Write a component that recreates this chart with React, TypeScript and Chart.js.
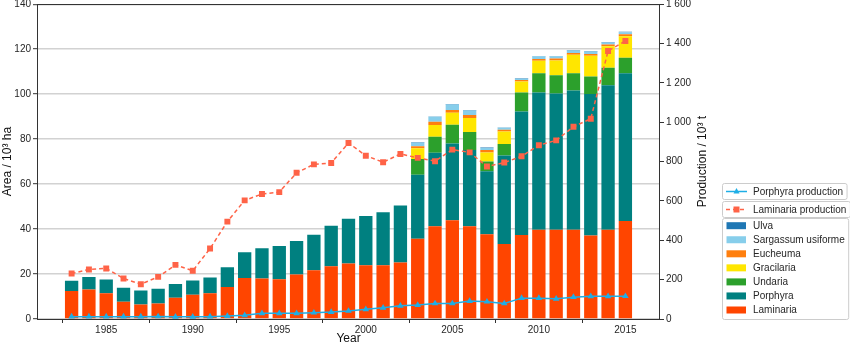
import React, { useEffect, useRef } from 'react';
import { Chart, registerables } from 'chart.js';

Chart.register(...registerables);

const years = [1983, 1984, 1985, 1986, 1987, 1988, 1989, 1990, 1991, 1992, 1993, 1994, 1995, 1996, 1997, 1998, 1999, 2000, 2001, 2002, 2003, 2004, 2005, 2006, 2007, 2008, 2009, 2010, 2011, 2012, 2013, 2014, 2015];

const laminariaArea = [12.4, 13.1, 11.5, 7.7, 6.5, 6.9, 9.5, 10.8, 11.4, 14.2, 18.2, 18.0, 17.7, 19.8, 21.7, 23.5, 24.7, 23.9, 23.9, 25.1, 35.7, 41.2, 43.9, 41.2, 37.7, 33.4, 37.4, 39.7, 39.7, 39.7, 37.1, 39.7, 43.6];
const porphyraArea = [4.6, 5.6, 6.1, 6.2, 6.2, 6.5, 6.1, 6.3, 7.1, 8.8, 11.5, 13.5, 14.8, 14.9, 15.8, 18.0, 19.9, 21.9, 23.6, 25.4, 28.5, 32.7, 34.2, 34.0, 28.0, 39.3, 54.9, 61.0, 60.6, 61.9, 63.0, 64.3, 65.7];
const undariaArea = [0, 0, 0, 0, 0, 0, 0, 0, 0, 0, 0, 0, 0, 0, 0, 0, 0, 0, 0, 0, 7.0, 7.2, 8.3, 8.0, 4.4, 5.1, 8.4, 8.6, 8.1, 7.7, 7.7, 7.7, 6.9];
const gracilariaArea = [0, 0, 0, 0, 0, 0, 0, 0, 0, 0, 0, 0, 0, 0, 0, 0, 0, 0, 0, 0, 4.7, 5.2, 5.3, 6.2, 4.0, 5.6, 4.9, 5.6, 6.6, 8.2, 9.3, 9.6, 9.5];
const eucheumaArea = [0, 0, 0, 0, 0, 0, 0, 0, 0, 0, 0, 0, 0, 0, 0, 0, 0, 0, 0, 0, 0.9, 1.4, 1.2, 1.3, 1.1, 0.8, 0.7, 0.7, 0.8, 0.8, 0.8, 0.8, 0.9];
const sargassumArea = [0, 0, 0, 0, 0, 0, 0, 0, 0, 0, 0, 0, 0, 0, 0, 0, 0, 0, 0, 0, 1.6, 2.2, 2.5, 2.0, 0.9, 0.8, 0.6, 1.2, 1.0, 1.1, 1.1, 0.9, 0.9];
const ulvaArea = [0, 0, 0, 0, 0, 0, 0, 0, 0, 0, 0, 0, 0, 0, 0, 0, 0, 0, 0, 0, 0.2, 0.2, 0.2, 0.2, 0.2, 0.2, 0.2, 0.2, 0.2, 0.2, 0.2, 0.2, 0.2];

const laminariaProduction = [231, 252, 257, 206, 177, 214, 275, 245, 358, 495, 603, 635, 645, 743, 786, 793, 895, 830, 797, 839, 819, 802, 861, 847, 775, 795, 827, 883, 908, 977, 1018, 1362, 1413];
const porphyraProduction = [12, 12, 12, 12, 12, 13, 11, 11, 12, 15, 19, 29, 29, 29, 32, 35, 41, 49, 57, 67, 71, 79, 79, 91, 88, 79, 106, 106, 103, 111, 115, 115, 116];

const xTickValues = [1985, 1990, 1995, 2000, 2005, 2010, 2015];
const leftTickValues = [0, 20, 40, 60, 80, 100, 120, 140];
const rightTickValues = [0, 200, 400, 600, 800, 1000, 1200, 1400, 1600];

const xTitle = 'Year';
const leftTitle = 'Area / 10³ ha';
const rightTitle = 'Production / 10³ t';

const FONT = '"Liberation Sans", Arial, sans-serif';
const TEXT = '#262626';
const SPINE = '#333333';

const barSeries = [
  { label: 'Laminaria', data: laminariaArea, color: '#ff4500' },
  { label: 'Porphyra', data: porphyraArea, color: '#008080' },
  { label: 'Undaria', data: undariaArea, color: '#2ca02c' },
  { label: 'Gracilaria', data: gracilariaArea, color: '#ffe600' },
  { label: 'Eucheuma', data: eucheumaArea, color: '#ff7f0e' },
  { label: 'Sargassum usiforme', data: sargassumArea, color: '#87ceeb' },
  { label: 'Ulva', data: ulvaArea, color: '#1f77b4' },
];

const pts = (vals: number[]) => years.map((y, i) => ({ x: y, y: vals[i] }));

const legendPlugin = {
  id: 'customLegend',
  afterDraw(chart: any) {
    const ctx = chart.ctx as CanvasRenderingContext2D;
    const ds = chart.data.datasets;
    ctx.save();
    ctx.font = `10px ${FONT}`;
    ctx.textBaseline = 'middle';
    const bx = 722.5;
    const textX = 753;
    const frame = (y: number, h: number, w: number) => {
      ctx.beginPath();
      (ctx as any).roundRect(bx, y, w, h, 2);
      ctx.fillStyle = 'rgba(255,255,255,0.85)';
      ctx.fill();
      ctx.strokeStyle = '#cccccc';
      ctx.lineWidth = 1;
      ctx.stroke();
    };
    const lineDs = ds.filter((d: any) => d.type === 'line');
    lineDs.forEach((d: any, i: number) => {
      const y0 = 183.5 + i * 18;
      const tw = ctx.measureText(d.label).width;
      frame(y0, 16, textX + tw + 4 - bx);
      const cy = y0 + 8;
      ctx.strokeStyle = d.borderColor;
      ctx.lineWidth = 1.5;
      ctx.setLineDash(d.borderDash || []);
      ctx.beginPath();
      ctx.moveTo(726, cy);
      ctx.lineTo(747, cy);
      ctx.stroke();
      ctx.setLineDash([]);
      ctx.fillStyle = d.borderColor;
      ctx.beginPath();
      if (d.pointStyle === 'triangle') {
        ctx.moveTo(736.5, cy - 3.5);
        ctx.lineTo(739.5, cy + 2);
        ctx.lineTo(733.5, cy + 2);
        ctx.closePath();
      } else {
        ctx.rect(733.5, cy - 3, 6, 6);
      }
      ctx.fill();
      ctx.fillStyle = TEXT;
      ctx.fillText(d.label, textX, cy + 0.5);
    });
    const barDs = ds.filter((d: any) => d.type === 'bar').slice().reverse();
    let maxW = 0;
    barDs.forEach((d: any) => { maxW = Math.max(maxW, ctx.measureText(d.label).width); });
    frame(218.5, 101, textX + maxW + 4 - bx);
    barDs.forEach((d: any, i: number) => {
      const cy = 225.7 + i * 14.05;
      ctx.fillStyle = d.backgroundColor;
      ctx.fillRect(726.5, cy - 3.5, 19.5, 7);
      ctx.fillStyle = TEXT;
      ctx.fillText(d.label, textX, cy + 0.5);
    });
    ctx.restore();
  },
};

const framePlugin = {
  id: 'frame',
  afterDraw(chart: any) {
    const { left, right, top, bottom } = chart.chartArea;
    const ctx = chart.ctx as CanvasRenderingContext2D;
    ctx.save();
    ctx.strokeStyle = SPINE;
    ctx.lineWidth = 1;
    ctx.strokeRect(Math.round(left) + 0.5, Math.round(top) + 0.5, Math.round(right - left) - 1, Math.round(bottom - top));
    // axis titles
    ctx.fillStyle = '#111';
    ctx.font = `12px ${FONT}`;
    ctx.textAlign = 'center';
    ctx.textBaseline = 'middle';
    const midY = (top + bottom) / 2;
    ctx.fillText(xTitle, (left + right) / 2, 338.5);
    ctx.save();
    ctx.translate(7.5, midY);
    ctx.rotate(-Math.PI / 2);
    ctx.fillText(leftTitle, 0, 0);
    ctx.restore();
    ctx.save();
    ctx.translate(703, midY);
    ctx.rotate(-Math.PI / 2);
    ctx.fillText(rightTitle, 0, 0);
    ctx.restore();
    ctx.restore();
  },
};

export default function App() {
  const ref = useRef<HTMLCanvasElement>(null);
  useEffect(() => {
    if (!ref.current) return;
    const datasets: any[] = [
      {
        type: 'line',
        label: 'Porphyra production',
        data: pts(porphyraProduction),
        yAxisID: 'y1',
        borderColor: '#1eaee6',
        backgroundColor: '#1eaee6',
        borderWidth: 1.5,
        pointStyle: 'triangle',
        pointRadius: 3.8,
        pointBorderWidth: 0,
        tension: 0,
        order: 0,
      },
      {
        type: 'line',
        label: 'Laminaria production',
        data: pts(laminariaProduction),
        yAxisID: 'y1',
        borderColor: '#ff6347',
        backgroundColor: '#ff6347',
        borderWidth: 1.5,
        borderDash: [4, 3],
        pointStyle: 'rect',
        pointRadius: 4.2,
        pointBorderWidth: 0,
        tension: 0,
        order: 0,
      },
      ...barSeries.map((s) => ({
        type: 'bar',
        label: s.label,
        data: pts(s.data),
        yAxisID: 'y',
        backgroundColor: s.color,
        borderWidth: 0,
        barPercentage: 0.77,
        categoryPercentage: 1,
        order: 1,
      })),
    ];
    const chart = new Chart(ref.current, {
      type: 'bar',
      data: { datasets },
      options: {
        animation: false,
        responsive: false,
        devicePixelRatio: 1,
        layout: { padding: { top: 3, right: 140, left: 0, bottom: 0 } },
        plugins: { legend: { display: false }, tooltip: { enabled: false } },
        scales: {
          x: {
            type: 'linear',
            min: 1981,
            max: 2017,
            stacked: true,
            offset: false,
            afterBuildTicks: (s: any) => { s.ticks = xTickValues.map((v) => ({ value: v })); },
            afterFit: (s: any) => { s.height = 26; s.paddingLeft = 0; s.paddingRight = 0; },
            ticks: { callback: (v: any) => String(v), font: { family: FONT, size: 10 }, color: TEXT, padding: 1, maxRotation: 0, autoSkip: false },
            grid: { display: true, drawOnChartArea: false, drawTicks: true, tickLength: 4, tickColor: SPINE, tickWidth: 1 },
            border: { display: false },
            title: { display: false },
          },
          y: {
            type: 'linear',
            position: 'left',
            min: 0,
            max: 140,
            stacked: true,
            afterBuildTicks: (s: any) => { s.ticks = leftTickValues.map((v) => ({ value: v })); },
            afterFit: (s: any) => { s.width = 37; s.paddingTop = 0; s.paddingBottom = 0; },
            ticks: { font: { family: FONT, size: 10 }, color: TEXT, padding: 2 },
            grid: { display: true, drawOnChartArea: true, color: '#d2d2d2', lineWidth: 1.4, drawTicks: true, tickLength: 4, tickColor: SPINE, tickWidth: 1 },
            border: { display: false },
            title: { display: false },
          },
          y1: {
            type: 'linear',
            position: 'right',
            min: 0,
            max: 1600,
            stacked: false,
            afterBuildTicks: (s: any) => { s.ticks = rightTickValues.map((v) => ({ value: v })); },
            afterFit: (s: any) => { s.width = 50; s.paddingTop = 0; s.paddingBottom = 0; },
            ticks: {
              font: { family: FONT, size: 10 },
              color: TEXT,
              padding: 2,
              callback: (v: any) => (v >= 1000 ? `${Math.floor(v / 1000)} ${String(v % 1000).padStart(3, '0')}` : String(v)),
            },
            grid: { display: true, drawOnChartArea: false, drawTicks: true, tickLength: 4, tickColor: SPINE, tickWidth: 1 },
            border: { display: false },
            title: { display: false },
          },
        },
      },
      plugins: [framePlugin, legendPlugin],
    } as any);
    return () => chart.destroy();
  }, []);
  return (
    <div style={{ position: 'fixed', left: 0, top: 0, width: 850, height: 345, background: '#fff' }}>
      <canvas ref={ref} width={850} height={345} style={{ display: 'block' }} />
    </div>
  );
}
